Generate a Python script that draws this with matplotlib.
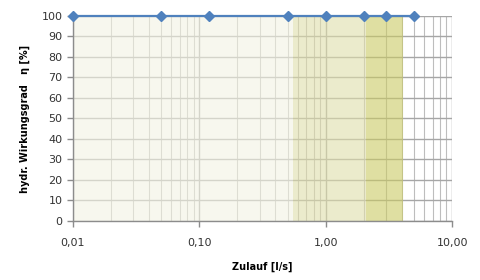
import matplotlib
matplotlib.use("Agg")
import matplotlib.pyplot as plt
from matplotlib.ticker import FixedLocator, FuncFormatter, LogLocator, NullFormatter

# Zulauf [l/s] und hydr. Wirkungsgrad [%]
zulauf = [0.01, 0.05, 0.12, 0.5, 1.0, 2.0, 3.0, 5.0]
wirkungsgrad = [100, 100, 100, 100, 100, 100, 100, 100]

# Hintergrundbereiche (von, bis, Farbe)
band_grenzen = [(0.01, 0.55), (0.55, 2.1), (2.1, 4.05)]
band_farben = ["#f3f3e3", "#dfdeaa", "#caca64"]

x_ticks = [0.01, 0.1, 1, 10]
y_ticks = list(range(0, 101, 10))

fig = plt.figure(figsize=(4.8, 2.8), dpi=100)
ax = fig.add_axes([0.152, 0.211, 0.79, 0.732])

ax.set_xscale("log")
ax.set_xlim(0.01, 10)
ax.set_ylim(0, 100)

for (lo, hi), c in zip(band_grenzen, band_farben):
    ax.axvspan(lo, hi, color=c, alpha=0.6, zorder=2, lw=0)

ax.plot(zulauf, wirkungsgrad, color="#4f81bd", lw=1.6, marker="D",
        markersize=5.5, markerfacecolor="#4f81bd", markeredgecolor="#4f81bd",
        zorder=5, clip_on=False)

ax.xaxis.set_major_locator(FixedLocator(x_ticks))
ax.xaxis.set_minor_locator(LogLocator(base=10, subs=range(2, 10)))
ax.xaxis.set_minor_formatter(NullFormatter())
ax.xaxis.set_major_formatter(FuncFormatter(lambda v, p: f"{v:.2f}".replace(".", ",")))
ax.yaxis.set_major_locator(FixedLocator(y_ticks))

ax.grid(True, which="major", color="#a6a6a6", lw=1.0, zorder=1)
ax.grid(True, which="minor", axis="x", color="#bdbdbd", lw=0.8, zorder=1)
ax.set_axisbelow(True)

for s in ["top", "right"]:
    ax.spines[s].set_visible(False)
for s in ["left", "bottom"]:
    ax.spines[s].set_color("#8c8c8c")
    ax.spines[s].set_linewidth(1.0)

ax.tick_params(axis="both", which="major", colors="#8c8c8c", labelcolor="#333333",
               labelsize=8, length=4, width=1)
ax.tick_params(axis="x", which="major", pad=8)
ax.tick_params(axis="x", which="minor", length=0)

ax.set_xlabel("Zulauf [l/s]", fontsize=7, fontweight="bold", labelpad=10)
ax.set_ylabel("hydr. Wirkungsgrad   η [%]", fontsize=7, fontweight="bold", labelpad=8)

fig.savefig("out.png", dpi=100)
